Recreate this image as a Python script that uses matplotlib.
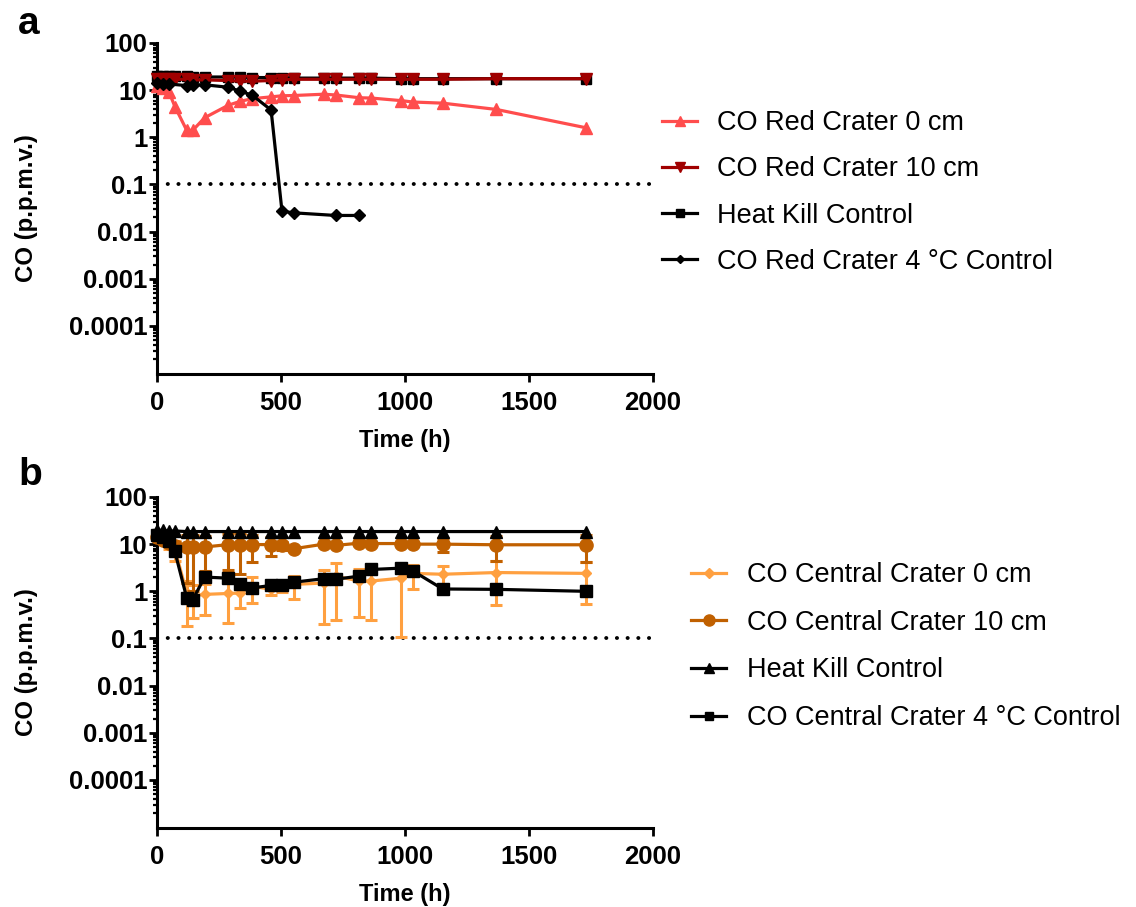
import numpy as np
import matplotlib
matplotlib.use('Agg')
import matplotlib.pyplot as plt
from matplotlib.lines import Line2D
from matplotlib.ticker import FixedLocator, NullFormatter

plt.rcParams['font.family'] = ['Liberation Sans', 'DejaVu Sans']

# ---------------- data ----------------
time_h = [0, 24, 48, 72, 120, 144, 192, 288, 336, 384, 460, 504, 552,
          672, 720, 816, 864, 984, 1032, 1152, 1368, 1728]

# panel a
red0 = [12, 11, 9.2, 4.5, 1.4, 1.4, 2.6, 4.8, 5.8, 6.6, 7.2, 7.6, 7.7,
        8.2, 7.9, 6.9, 6.8, 6.0, 5.6, 5.3, 3.9, 1.6]
red10 = [17, 17, 17, 17, 17, 16.5, 16.5, 16, 15.5, 15.5, 16, 16.5, 17,
         17, 17, 17, 17, 17, 17, 17, 17.5, 17.5]
heat_a = [20, 20, 19.5, 19.5, 19.5, 19, 19, 19, 19, 18.5, 18.5, 18.5, 18,
          18, 18, 18, 18, 17.5, 17.5, 17.5, 17.5, 17.5]
time_cold_a = [0, 24, 48, 120, 144, 192, 288, 336, 384, 460, 504, 552, 720, 816]
cold_a = [14, 13.5, 13.5, 12.5, 13, 13, 11.5, 9.5, 7.8, 3.8, 0.027, 0.025, 0.022, 0.022]

# panel b
cen0 = [14, 13, 10, 8, 0.9, 0.8, 0.86, 0.9, 0.92, 1.28, 1.1, 1.3, 1.4,
        1.5, 2.1, 1.65, 1.65, 1.9, 2.4, 2.3, 2.5, 2.4]
cen0_sd = [1, 2, 2, 3.7, 0.72, 0.53, 0.55, 0.69, 0.48, 0.72, 0.25, 0.35, 0.7,
           1.3, 1.85, 1.37, 1.4, 1.79, 1.3, 1.1, 2.0, 1.85]
cen10 = [14, 12.5, 10.5, 9, 8.5, 8.5, 8.7, 9.8, 9.8, 9.8, 9.8, 9.4, 8.0,
         10.0, 9.4, 10.5, 10.3, 10.3, 10.0, 10.0, 9.7, 9.7]
cen10_sd = [1, 1, 1, 2, 7.0, 7.5, 6.0, 7.0, 7.5, 5.6, 4.2, 1.8, 0.5,
            0.5, 0.5, 0.5, 0.5, 0.5, 0.5, 3.2, 5.4, 5.6]
heat_b = [19.5, 19.5, 19, 19, 18.5, 18.5, 18.5, 18.5, 18.5, 18.5, 18.5, 18.5, 18.5,
          18.5, 18.5, 18.5, 18.5, 18.5, 18.5, 18.5, 18.5, 18.5]
cold_b = [16, 14, 11.8, 7.0, 0.72, 0.66, 2.0, 1.9, 1.44, 1.18, 1.33, 1.39, 1.56,
          1.85, 1.8, 2.1, 2.9, 3.1, 2.7, 1.12, 1.1, 1.0]

x_ticks = [0, 500, 1000, 1500, 2000]
y_major = [1e2, 1e1, 1e0, 1e-1, 1e-2, 1e-3, 1e-4]
y_labels = ['100', '10', '1', '0.1', '0.01', '0.001', '0.0001']
detection_limit = 0.1

labels_a = ['CO Red Crater 0 cm', 'CO Red Crater 10 cm', 'Heat Kill Control',
            'CO Red Crater 4 °C Control']
labels_b = ['CO Central Crater 0 cm', 'CO Central Crater 10 cm', 'Heat Kill Control',
            'CO Central Crater 4 °C Control']

# ---------------- style ----------------
C_RED0 = '#FF4D4D'
C_RED10 = '#A00000'
C_CEN0 = '#FFA040'
C_CEN10 = '#C06000'
C_BLACK = '#000000'
LW = 2.3

W, H = 1136, 907
fig = plt.figure(figsize=(W / 100, H / 100), dpi=100)


def axes_px(left, top, right, bottom):
    return fig.add_axes([left / W, 1 - bottom / H, (right - left) / W, (bottom - top) / H])


ax_a = axes_px(157, 43, 653, 374)
ax_b = axes_px(157, 497, 653, 828)

minor = [k * 10.0 ** d for d in range(-5, 2) for k in range(2, 10)]


def style(ax):
    ax.set_yscale('log')
    ax.set_xlim(0, 2000)
    ax.set_ylim(10 ** -5.02, 100)
    for s in ['top', 'right']:
        ax.spines[s].set_visible(False)
    for s in ['left', 'bottom']:
        ax.spines[s].set_linewidth(2.2)
    ax.set_xticks(x_ticks)
    ax.set_xticklabels([str(t) for t in x_ticks])
    ax.yaxis.set_major_locator(FixedLocator(y_major))
    ax.set_yticklabels(y_labels)
    ax.yaxis.set_minor_locator(FixedLocator(minor))
    ax.yaxis.set_minor_formatter(NullFormatter())
    ax.tick_params(axis='y', which='major', labelsize=18.5, width=2.0, length=5.5, pad=1.5)
    ax.tick_params(axis='y', which='minor', width=1.6, length=3.0)
    ax.tick_params(axis='x', which='major', labelsize=18.5, width=2.0, length=6, pad=6)
    for lab in ax.get_xticklabels() + ax.get_yticklabels():
        lab.set_fontweight('bold')
    ax.set_xlabel('Time (h)', fontsize=17, fontweight='bold')
    ax.xaxis.set_label_coords(0.5, -0.165)
    ax.set_ylabel('CO (p.p.m.v.)', fontsize=17.3, fontweight='bold')
    ax.yaxis.set_label_coords(-0.24, 0.5)
    ax.axhline(detection_limit, color='black', lw=2.8, linestyle=(0, (0.05, 2.7)),
               dash_capstyle='round', zorder=1)


style(ax_a)
style(ax_b)

# ---------------- panel a ----------------
ax_a.plot(time_h, heat_a, color=C_BLACK, lw=LW, marker='s', ms=7.5, clip_on=False, zorder=3)
ax_a.plot(time_h, red10, color=C_RED10, lw=LW, marker='v', ms=9, clip_on=False, zorder=4)
ax_a.plot(time_h, red0, color=C_RED0, lw=LW, marker='^', ms=9, clip_on=False, zorder=5)
ax_a.plot(time_cold_a, cold_a, color=C_BLACK, lw=LW, marker='D', ms=6.5, clip_on=False, zorder=6)

# ---------------- panel b ----------------
ek = dict(lw=LW, capsize=4.5, capthick=2.2, elinewidth=2.2, clip_on=False)
ax_b.errorbar(time_h, cen0, yerr=cen0_sd, color=C_CEN0, marker='D', ms=5.5, zorder=3, **ek)
ax_b.errorbar(time_h, cen10, yerr=cen10_sd, color=C_CEN10, marker='o', ms=9.5, zorder=4, **ek)
ax_b.plot(time_h, heat_b, color=C_BLACK, lw=LW, marker='^', ms=8.5, clip_on=False, zorder=5)
ax_b.plot(time_h, cold_b, color=C_BLACK, lw=LW, marker='s', ms=8.5, clip_on=False, zorder=6)

# ---------------- legends ----------------
hA = [Line2D([], [], color=C_RED0, lw=LW, marker='^', ms=7.5),
      Line2D([], [], color=C_RED10, lw=LW, marker='v', ms=7.5),
      Line2D([], [], color=C_BLACK, lw=LW, marker='s', ms=6),
      Line2D([], [], color=C_BLACK, lw=LW, marker='D', ms=4.5)]
hB = [Line2D([], [], color=C_CEN0, lw=LW, marker='D', ms=5),
      Line2D([], [], color=C_CEN10, lw=LW, marker='o', ms=8),
      Line2D([], [], color=C_BLACK, lw=LW, marker='^', ms=7),
      Line2D([], [], color=C_BLACK, lw=LW, marker='s', ms=6)]

leg_kw = dict(frameon=False, fontsize=19.5, borderpad=0, borderaxespad=0,
              loc='center left', bbox_transform=fig.transFigure)
fig.legend(hA, labels_a, bbox_to_anchor=(662 / W, 1 - 192.5 / H), handlelength=1.3,
           handletextpad=0.74, labelspacing=0.74, **leg_kw)
fig.legend(hB, labels_b, bbox_to_anchor=(691 / W, 1 - 646.5 / H), handlelength=1.3,
           handletextpad=0.78, labelspacing=0.8, **leg_kw)

# panel letters
fig.text(29 / W, 1 - 24 / H, 'a', fontsize=28, fontweight='bold', ha='center', va='center')
fig.text(30 / W, 1 - 475 / H, 'b', fontsize=28, fontweight='bold', ha='center', va='center')

fig.savefig('out.png', dpi=100)
